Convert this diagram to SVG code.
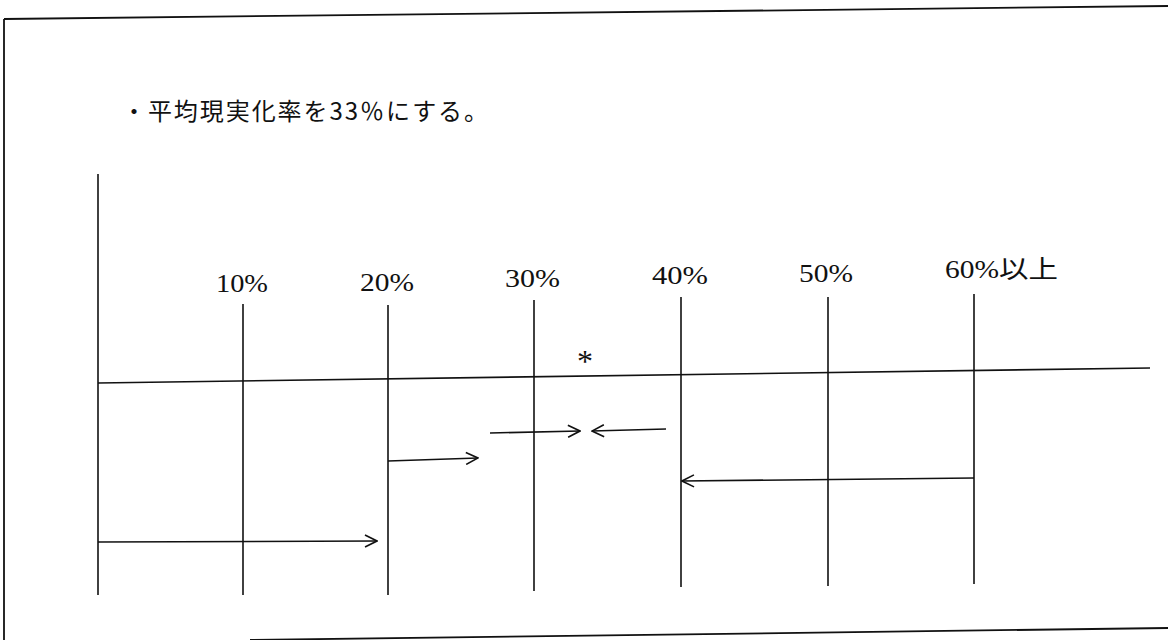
<svg xmlns="http://www.w3.org/2000/svg" width="1168" height="640" viewBox="0 0 1168 640">
<style>
.ln{stroke:#111;stroke-width:1.6;fill:none}
.fr{stroke:#111;stroke-width:1.8;fill:none}
.lbl{font-family:"Liberation Serif","Noto Sans CJK JP",serif;font-size:25px;fill:#111}
.ttl{font-family:"Noto Sans CJK JP",sans-serif;font-size:24px;fill:#111}
</style>
<defs>
<marker id="ah" viewBox="0 0 14 14" refX="13" refY="7" markerWidth="14" markerHeight="14" markerUnits="userSpaceOnUse" orient="auto">
<polyline points="1,1 13,7 1,13" fill="none" stroke="#111" stroke-width="1.6"/>
</marker>
</defs>
<rect width="1168" height="640" fill="#fff"/>
<g id="frame">
<path class="fr" d="M4,19 L1168,6"/>
<path class="fr" d="M4,19 L4,640"/>
<path class="fr" d="M250,640 L1168,628"/>
</g>
<g id="title"><text class="ttl" x="122" y="120" textLength="366" lengthAdjust="spacing">・平均現実化率を33％にする。</text></g>
<g id="axis">
<line class="ln" x1="98" y1="174" x2="98" y2="595"/>
<line class="ln" x1="98" y1="383" x2="1150" y2="368"/>
</g>
<g id="ticks">
<line class="ln" x1="243" y1="304" x2="243" y2="595"/>
<line class="ln" x1="388" y1="305" x2="388" y2="595"/>
<line class="ln" x1="534" y1="300" x2="534" y2="591"/>
<line class="ln" x1="681" y1="297" x2="681" y2="587"/>
<line class="ln" x1="828" y1="297" x2="828" y2="586"/>
<line class="ln" x1="974" y1="294" x2="974" y2="584"/>
</g>
<g id="labels">
<text class="lbl" x="216" y="292" textLength="52" lengthAdjust="spacingAndGlyphs">10%</text>
<text class="lbl" x="360" y="291" textLength="54" lengthAdjust="spacingAndGlyphs">20%</text>
<text class="lbl" x="505" y="287" textLength="55" lengthAdjust="spacingAndGlyphs">30%</text>
<text class="lbl" x="652" y="284" textLength="56" lengthAdjust="spacingAndGlyphs">40%</text>
<text class="lbl" x="799" y="282" textLength="54" lengthAdjust="spacingAndGlyphs">50%</text>
<text class="lbl" x="945" y="278" textLength="113" lengthAdjust="spacingAndGlyphs">60%以上</text>
<text class="lbl" x="577" y="372" style="font-size:32px">*</text>
</g>
<g id="connectors">
<line class="ln" x1="98" y1="542" x2="377" y2="541" marker-end="url(#ah)"/>
<line class="ln" x1="388" y1="461" x2="478" y2="458" marker-end="url(#ah)"/>
<line class="ln" x1="490" y1="433" x2="580" y2="431" marker-end="url(#ah)"/>
<line class="ln" x1="666" y1="429" x2="592" y2="431" marker-end="url(#ah)"/>
<line class="ln" x1="974" y1="478" x2="682" y2="481" marker-end="url(#ah)"/>
</g>
</svg>
